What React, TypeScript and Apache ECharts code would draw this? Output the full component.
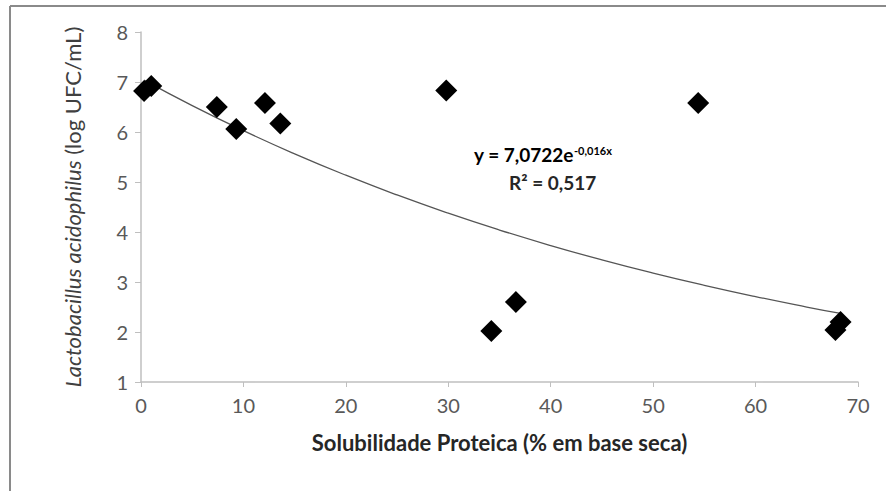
import React, { useEffect, useRef } from "react";
import * as echarts from "echarts";

const solubility = [0.3, 1.0, 7.4, 9.3, 12.1, 13.6, 29.8, 34.2, 36.6, 54.4, 67.8, 68.3];
const lactobacillus = [6.82, 6.92, 6.5, 6.06, 6.58, 6.17, 6.83, 2.02, 2.6, 6.58, 2.04, 2.2];
const trendA = 7.0722;
const trendB = -0.016;
const trendX = [0.3, 5, 10, 15, 20, 25, 30, 35, 40, 45, 50, 55, 60, 65, 68.3];

const FONT = "Lato, 'Open Sans', sans-serif";

export default function App() {
  const ref = useRef<HTMLDivElement>(null);
  useEffect(() => {
    document.body.style.margin = "0";
    const chart = echarts.init(ref.current!, null, { renderer: "svg" });
    const points = solubility.map((x, i) => [x, lactobacillus[i]]);
    const trend = trendX.map((x) => [x, trendA * Math.exp(trendB * x)]);
    chart.setOption({
      animation: false,
      backgroundColor: "#ffffff",
      grid: { left: 141, top: 32, right: 28, bottom: 109 },
      xAxis: {
        type: "value",
        min: 0,
        max: 70,
        interval: 10,
        name: "Solubilidade Proteica (% em base seca)",
        nameLocation: "middle",
        nameGap: 49,
        nameTextStyle: { fontFamily: FONT, fontSize: 22, fontWeight: "bold", color: "#262626" },
        axisLine: { lineStyle: { color: "#bfbfbf", width: 1.5 } },
        axisTick: { show: true, length: 5, lineStyle: { color: "#bfbfbf" } },
        axisLabel: { fontFamily: FONT, fontSize: 20, color: "#595959", margin: 13 },
        splitLine: { show: false },
      },
      yAxis: {
        type: "value",
        min: 1,
        max: 8,
        interval: 1,
        name: "{i|Lactobacillus acidophilus} {n|(log UFC/mL)}",
        nameLocation: "middle",
        nameGap: 58,
        nameTextStyle: {
          fontFamily: FONT,
          fontSize: 22,
          color: "#404040",
          rich: {
            i: { fontStyle: "italic", fontFamily: FONT, fontSize: 22, color: "#404040" },
            n: { fontFamily: FONT, fontSize: 22, color: "#404040" },
          },
        },
        axisLine: { show: true, lineStyle: { color: "#bfbfbf", width: 1.5 } },
        axisTick: { show: true, length: 6, lineStyle: { color: "#bfbfbf" } },
        axisLabel: { fontFamily: FONT, fontSize: 20, color: "#595959", margin: 13 },
        splitLine: { show: false },
      },
      series: [
        {
          type: "line",
          data: trend,
          smooth: true,
          showSymbol: false,
          lineStyle: { color: "#555555", width: 1.3 },
          z: 2,
        },
        {
          type: "scatter",
          data: points,
          symbol: "diamond",
          symbolSize: 22,
          itemStyle: { color: "#000000", opacity: 1 },
          z: 3,
        },
      ],
      graphic: [
        { type: "line", shape: { x1: 10, y1: 6, x2: 886, y2: 6 }, style: { stroke: "#8a8a8a", lineWidth: 2 } },
        { type: "line", shape: { x1: 10, y1: 6, x2: 10, y2: 491 }, style: { stroke: "#8a8a8a", lineWidth: 2 } },
        {
          type: "text",
          left: 474,
          top: 145,
          style: {
            text: "{b|y = 7,0722e}{s|-0,016x}",
            fontFamily: FONT,
            rich: {
              b: { fontFamily: FONT, fontSize: 19, fontWeight: "bold", color: "#262626" },
              s: { fontFamily: FONT, fontSize: 11, fontWeight: "bold", color: "#262626", verticalAlign: "top", padding: [0, 0, 8, 0] },
            },
          },
        },
        {
          type: "text",
          left: 509,
          top: 173,
          style: {
            text: "R² = 0,517",
            fontFamily: FONT,
            fontSize: 19,
            fontWeight: "bold",
            fill: "#262626",
          },
        },
      ],
    });
    return () => chart.dispose();
  }, []);
  return <div ref={ref} style={{ width: 886, height: 491, position: "absolute", left: 0, top: 0 }} />;
}
